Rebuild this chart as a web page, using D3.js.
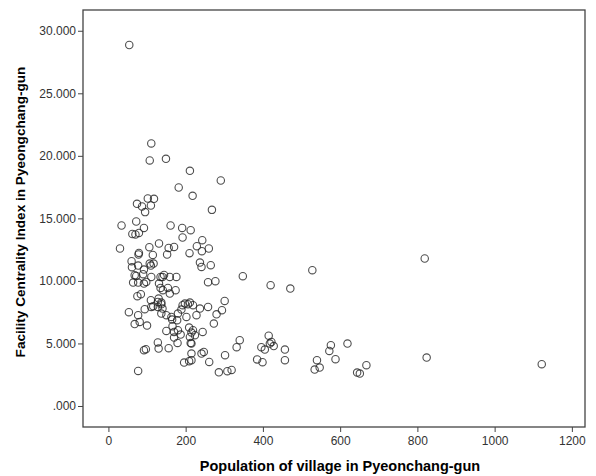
<!DOCTYPE html>
<html>
<head>
<meta charset="utf-8">
<script src="https://cdn.jsdelivr.net/npm/d3@7"></script>
<style>
  body { margin: 0; background: #fff; }
  svg { font-family: "Liberation Sans", Arial, sans-serif; }
</style>
</head>
<body>
<div id="chart"></div>
<script>
// population of village, facility centrality index
var population = [
  54, 111, 107, 149, 211, 291, 182, 218, 102, 118, 74, 87, 110, 95, 268, 34, 72, 161, 92, 191,
  213, 62, 70, 79, 192, 243, 229, 242, 260, 131, 156, 170, 106, 30,
  210, 152, 79, 78, 115, 60, 77, 107, 110, 117, 237, 241, 265, 61, 92, 68, 72, 90, 144, 140,
  159, 176, 111, 348, 528, 819, 420, 471, 135,
  64, 77, 98, 92, 131, 135, 141, 154, 159, 174, 258, 277,
  75, 84, 110, 130, 137, 198, 211, 301,
  94, 111, 116, 128, 137, 128, 140, 137, 150, 163, 165, 178, 180, 192, 206, 189, 202, 219, 237, 228,
  258, 294, 280, 53, 77, 68, 81, 100,
  150, 166, 170, 180, 187, 170, 179, 209, 211, 213, 215, 219, 244, 224, 215, 215, 241, 247, 215, 261,
  196, 209, 273, 128, 130, 156, 92, 97, 77, 302, 286, 308, 319, 332, 340, 385, 399, 396, 405, 415,
  418, 428, 422, 457, 457, 576, 572, 588, 619, 540, 547, 534, 668, 644, 651, 824, 1122
];
var centrality = [
  28.86, 20.99, 19.63, 19.76, 18.80, 18.03, 17.47, 16.80, 16.59, 16.56, 16.16, 15.95, 16.03, 15.50, 15.68, 14.43, 14.75, 14.43, 14.24, 14.24,
  14.06, 13.75, 13.72, 13.84, 13.47, 13.26, 12.78, 12.38, 12.59, 12.99, 12.64, 12.72, 12.70, 12.59,
  12.22, 12.11, 12.24, 12.11, 12.08, 11.58, 11.23, 11.39, 11.23, 11.39, 11.47, 11.12, 11.26, 11.10, 10.91, 10.46, 10.40, 10.54, 10.48, 10.32,
  10.32, 10.32, 10.32, 10.38, 10.86, 11.79, 9.66, 9.39, 10.32,
  9.87, 9.87, 9.92, 9.79, 9.79, 9.44, 9.26, 9.44, 8.99, 9.26, 9.90, 9.98,
  8.78, 8.94, 8.46, 8.59, 8.27, 8.19, 8.27, 8.40,
  7.74, 7.92, 7.98, 8.32, 8.14, 7.92, 7.79, 7.39, 7.26, 7.12, 6.91, 6.86, 7.39, 8.06, 8.14, 7.71, 7.12, 8.06, 7.79, 7.26,
  7.92, 7.66, 7.33, 7.50, 7.26, 6.55, 6.72, 6.43,
  6.00, 6.38, 5.92, 6.06, 5.71, 5.47, 5.04, 6.27, 5.52, 5.04, 5.87, 6.06, 5.92, 5.66, 4.99, 4.19, 4.19, 4.32, 3.66, 3.52,
  3.47, 3.58, 6.59, 5.08, 4.59, 4.62, 4.46, 4.54, 2.80, 4.06, 2.69, 2.78, 2.88, 4.70, 5.26, 3.72, 3.50, 4.70, 4.51, 5.62,
  4.99, 4.79, 5.12, 4.51, 3.66, 4.86, 4.40, 3.74, 4.99, 3.66, 3.07, 2.91, 3.26, 2.67, 2.59, 3.87, 3.34
];
var xTicks = [0, 200, 400, 600, 800, 1000, 1200];
var yTicks = [0, 5, 10, 15, 20, 25, 30];

var width = 596, height = 476;
var margin = {top: 10, right: 11, bottom: 49, left: 83};

var svg = d3.select("#chart").append("svg")
  .attr("width", width)
  .attr("height", height);

var x = d3.scaleLinear()
  .domain([-65.8, 1234])
  .range([margin.left, width - margin.right]);

var y = d3.scaleLinear()
  .domain([-1.68, 31.66])
  .range([height - margin.bottom, margin.top]);

var fmtY = function(d){
  var s = d3.format(".3f")(d);
  return s.replace(/^0\./, ".");
};

var xAxis = svg.append("g")
  .attr("transform", "translate(0," + (height - margin.bottom) + ")")
  .call(d3.axisBottom(x).tickValues(xTicks).tickSize(5).tickPadding(4).tickFormat(d3.format("d")));

var yAxis = svg.append("g")
  .attr("transform", "translate(" + margin.left + ",0)")
  .call(d3.axisLeft(y).tickValues(yTicks).tickSize(5).tickPadding(2).tickFormat(fmtY));

[xAxis, yAxis].forEach(function(g){
  g.select(".domain").remove();
  g.selectAll(".tick line").attr("stroke", "#444");
  g.selectAll(".tick text")
    .attr("fill", "#333")
    .style("font-size", "12px")
    .style("font-family", "'Liberation Sans', Arial, sans-serif");
});

// plot frame
svg.append("rect")
  .attr("x", margin.left)
  .attr("y", margin.top)
  .attr("width", width - margin.left - margin.right)
  .attr("height", height - margin.top - margin.bottom)
  .attr("fill", "none")
  .attr("stroke", "#444")
  .attr("stroke-width", 1.3);

var points = population.map(function(p, i){ return {pop: p, fci: centrality[i]}; });

svg.append("g").selectAll("circle")
  .data(points)
  .enter().append("circle")
  .attr("cx", function(d){ return x(d.pop); })
  .attr("cy", function(d){ return y(d.fci); })
  .attr("r", 3.7)
  .attr("fill", "none")
  .attr("stroke", "#222")
  .attr("stroke-opacity", 0.8)
  .attr("stroke-width", 1.1);

svg.append("text")
  .attr("x", 340)
  .attr("y", 471)
  .attr("text-anchor", "middle")
  .style("font-size", "14.5px")
  .style("font-weight", "bold")
  .text("Population of village in Pyeonchang-gun");

svg.append("text")
  .attr("transform", "translate(25,212) rotate(-90)")
  .attr("text-anchor", "middle")
  .style("font-size", "13.6px")
  .style("font-weight", "bold")
  .text("Facility Centrality Index in Pyeongchang-gun");
</script>
</body>
</html>
